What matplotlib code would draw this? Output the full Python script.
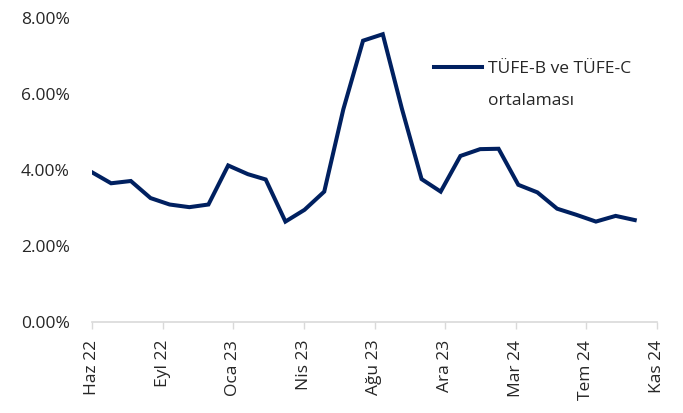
import pandas as pd
import matplotlib.pyplot as plt
import matplotlib.ticker as mticker

plt.rcParams['font.family'] = ['Open Sans', 'DejaVu Sans']

# aylık veri, Haziran 2022 - Ekim 2024
dates = pd.date_range('2022-06-01', periods=29, freq='MS')
values = [3.94, 3.65, 3.71, 3.26, 3.09, 3.02, 3.09, 4.12, 3.89, 3.75,
          2.64, 2.95, 3.43, 5.60, 7.41, 7.58, 5.62, 3.76, 3.43, 4.37,
          4.55, 4.56, 3.61, 3.41, 2.98, 2.82, 2.64, 2.79, 2.68]
series_name = ["TÜFE-B ve TÜFE-C", "ortalaması"]

tick_labels = ["Haz 22", "Eyl 22", "Oca 23", "Nis 23", "Ağu 23",
               "Ara 23", "Mar 24", "Tem 24", "Kas 24"]
tick_step_days = 111
y_ticks = [0, 2, 4, 6, 8]

navy = '#002060'
txt = '#262626'
grey = '#d9d9d9'

fig = plt.figure(figsize=(6.83, 4.13), dpi=100)
ax = fig.add_axes([92 / 683, 1 - 321.7 / 413, (657 - 92) / 683, (321.7 - 18.3) / 413])

ax.plot(dates, values, color=navy, linewidth=2.9, label=series_name[0],
        solid_joinstyle='miter')

start = dates[0]
tick_pos = [start + pd.Timedelta(days=tick_step_days * i) for i in range(len(tick_labels))]
ax.set_xlim(start, tick_pos[-1])
ax.set_xticks(tick_pos)
ax.set_xticklabels(tick_labels, rotation=90, fontsize=12.5, color=txt)

ax.set_ylim(0, 8)
ax.set_yticks(y_ticks)
ax.yaxis.set_major_formatter(mticker.FuncFormatter(lambda v, p: f"{v:.2f}%"))
for lab in ax.get_yticklabels():
    lab.set_fontsize(12.5)
    lab.set_color(txt)

ax.tick_params(axis='y', length=0, pad=16)
ax.tick_params(axis='x', length=5, width=1, color=grey, pad=8)

for s in ['top', 'right', 'left']:
    ax.spines[s].set_visible(False)
ax.spines['bottom'].set_color(grey)
ax.spines['bottom'].set_linewidth(1.2)

leg = ax.legend(loc='upper left', bbox_to_anchor=(425 / 683, 1 - 52 / 413),
                bbox_transform=fig.transFigure, frameon=False, fontsize=12.5,
                handlelength=2.8, handletextpad=0.3, labelcolor=txt,
                borderpad=0)

# ikinci satır, legend yazısının altına
fig.canvas.draw()
bb = leg.get_texts()[0].get_window_extent()
fig.text(bb.x0 / 683, (bb.y0 - 32) / 413, series_name[1], fontsize=12.5,
         color=txt, ha='left', va='bottom')

fig.savefig('out.png', dpi=100)
